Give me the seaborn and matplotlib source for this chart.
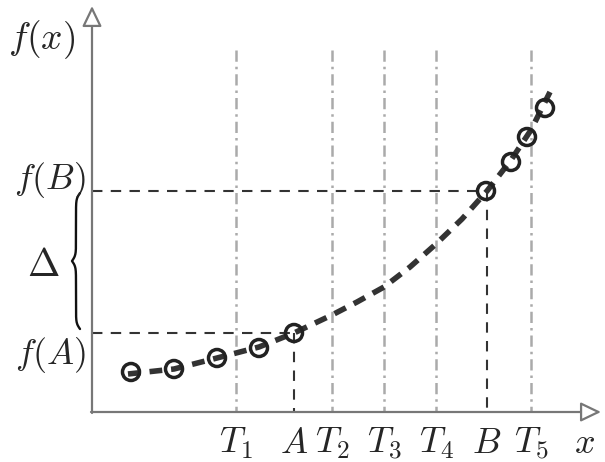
import numpy as np
import pandas as pd
import matplotlib
matplotlib.use("Agg")
import matplotlib.pyplot as plt
import seaborn as sns

# ---- data (diagram coordinates; y grows downward) ----
curve_x = [128, 174, 217, 259, 294, 332, 357, 384, 410, 436, 462, 487, 511, 531, 550]
curve_y = [374, 369, 358, 347, 333, 315, 302, 287, 267, 244, 219, 191, 160, 130, 92]

sample_x = [131, 174, 217, 259, 294, 486, 511, 527, 545]
sample_y = [372, 369, 358, 348, 333, 191, 162, 137, 108]

T_names = [r"$T_1$", r"$T_2$", r"$T_3$", r"$T_4$", r"$T_5$"]
T_x = [236, 332, 384, 436, 531]

A_x, fA = 294, 333
B_x, fB = 487, 191

origin_x, origin_y = 92, 412
top_y = 50

sns.set_style("white")
plt.rcParams["mathtext.fontset"] = "cm"
plt.rcParams["font.family"] = ["DejaVu Sans"]

fig = plt.figure(figsize=(6.05, 4.62), dpi=100)
ax = fig.add_axes([0, 0, 1, 1])

# vertical dash-dot gray lines T_i
for tx in T_x:
    ax.plot([tx, tx], [top_y, origin_y], color="#aaaaaa", lw=1.8,
            dashes=(4.5, 2, 1, 2), zorder=1)

# dashed guide lines for A and B
guide = dict(color="#333333", lw=1.5, dashes=(5, 4), zorder=1)
ax.plot([origin_x, A_x], [fA, fA], **guide)
ax.plot([A_x, A_x], [fA, origin_y], **guide)
ax.plot([origin_x, B_x], [fB, fB], **guide)
ax.plot([B_x, B_x], [fB, origin_y], **guide)

# axes with open arrow heads
arrow = dict(arrowstyle="-|>,head_length=1.25,head_width=0.6", fc="white",
             ec="#777777", lw=1.6, shrinkA=0, shrinkB=0)
ax.annotate("", xy=(origin_x, 6), xytext=(origin_x, origin_y + 1), arrowprops=arrow)
ax.annotate("", xy=(601, origin_y), xytext=(origin_x - 1, origin_y), arrowprops=arrow)

# the function curve
df_curve = pd.DataFrame({"x": curve_x, "y": curve_y})
sns.lineplot(data=df_curve, x="x", y="y", ax=ax, color="#333333", lw=4.0,
             sort=False, estimator=None, zorder=3)
ax.lines[-1].set_dashes((2.3, 1.6))
ax.lines[-1].set_solid_capstyle("butt")

# sample points
df_s = pd.DataFrame({"x": sample_x, "y": sample_y})
sns.scatterplot(data=df_s, x="x", y="y", ax=ax, s=150, facecolor="none",
                edgecolor="#222222", linewidth=2.5, zorder=4)

ax.set_xlim(0, 605)
ax.set_ylim(462, 0)
ax.axis("off")

# brace for Delta
def brace(x_right, y1, y2, w, beta=0.35):
    n = 201
    half = n // 2 + 1
    yy = np.linspace(y1, y2, n)
    s = yy[:half] - y1
    xh = 1 / (1 + np.exp(-beta * (s - s[0]))) + 1 / (1 + np.exp(-beta * (s - s[-1])))
    xs = np.concatenate((xh, xh[-2::-1]))
    return x_right - (xs - 0.5) * w, yy

bx, by = brace(80, 193, 329, 8, beta=0.35)
ax.plot(bx, by, color="#111111", lw=1.7)

fs = 26
ax.text(42, 40, r"$f(x)$", fontsize=fs + 1, ha="center", va="center")
ax.text(50, 180, r"$f(B)$", fontsize=fs, ha="center", va="center")
ax.text(51, 355, r"$f(A)$", fontsize=fs, ha="center", va="center")
ax.text(43, 265, r"$\Delta$", fontsize=fs + 2, ha="center", va="center")

base = 453
for name, tx in zip(T_names, T_x):
    ax.text(tx, base, name, fontsize=fs, ha="center", va="baseline")
ax.text(A_x, base, r"$A$", fontsize=fs, ha="center", va="baseline")
ax.text(B_x, base, r"$B$", fontsize=fs, ha="center", va="baseline")
ax.text(585, base, r"$x$", fontsize=fs, ha="center", va="baseline")

fig.savefig("out.png", dpi=100)
